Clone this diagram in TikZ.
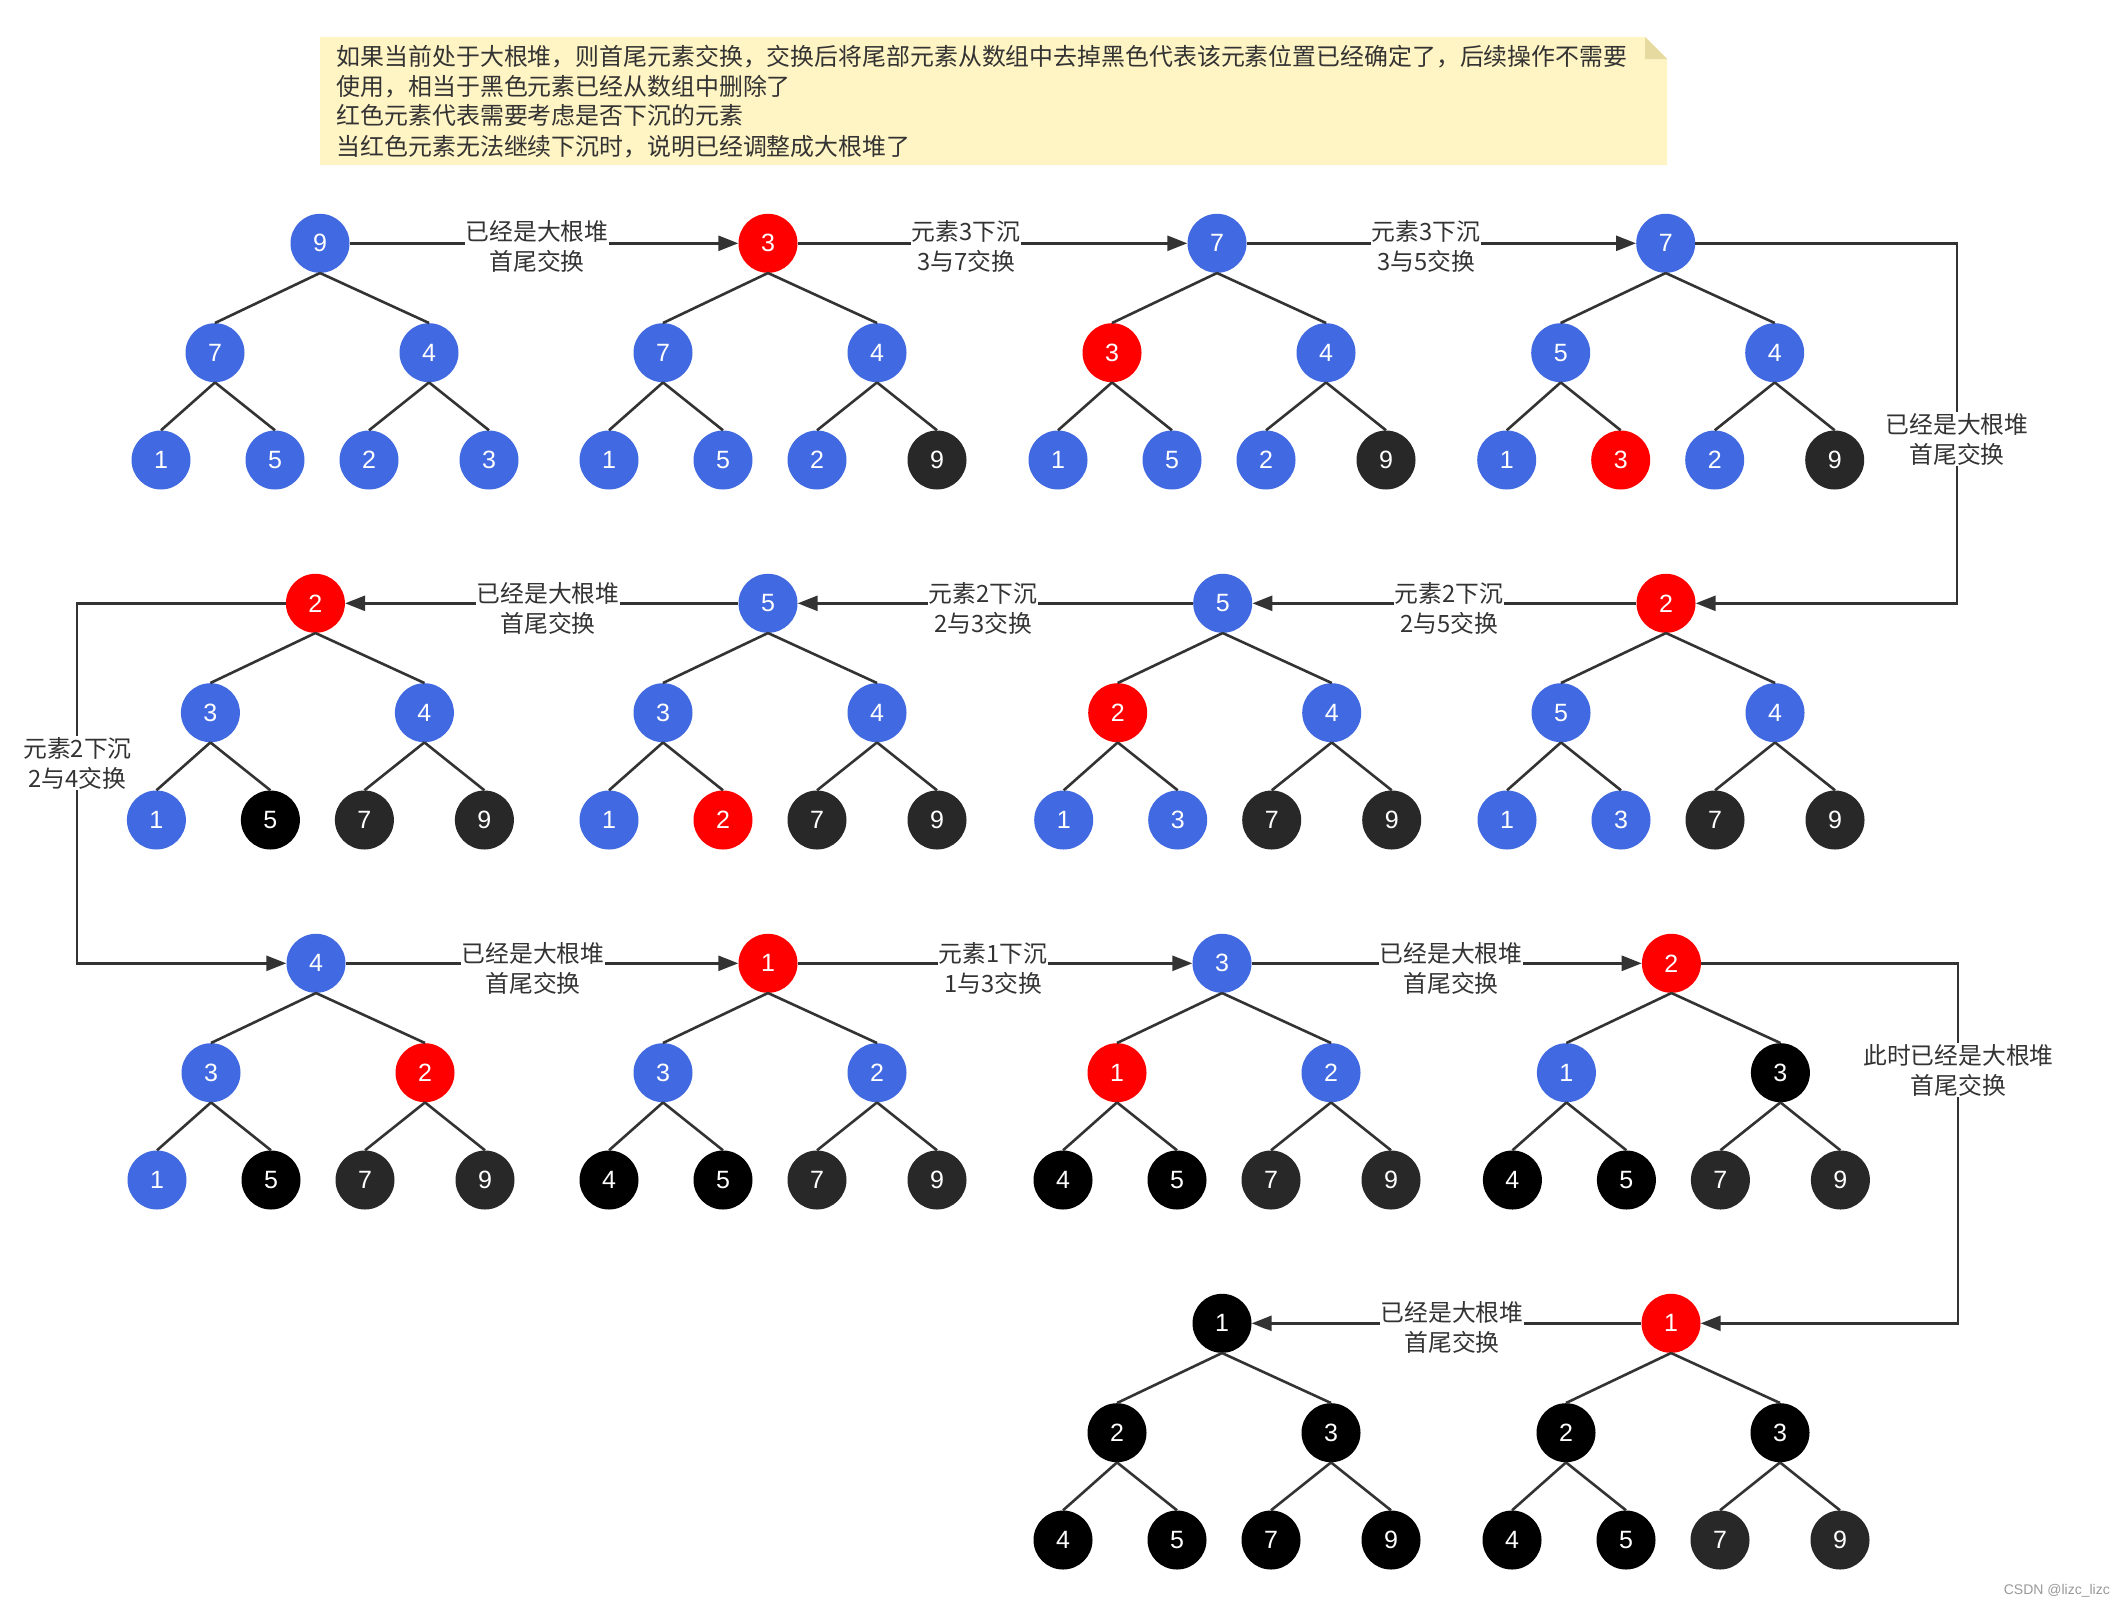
\documentclass[tikz,border=0pt]{standalone}
\usepackage{fontspec}
\usetikzlibrary{arrows.meta,calc}
\newfontfamily\cjk{Noto Sans CJK SC}
\newfontfamily\hv{Liberation Sans}
\definecolor{cB}{HTML}{4169E1}
\definecolor{cR}{HTML}{FF0000}
\definecolor{cD}{HTML}{282828}
\definecolor{cK}{HTML}{000000}
\definecolor{ln}{HTML}{333333}
\definecolor{notefill}{HTML}{FFF4C3}
\definecolor{notefold}{HTML}{E6DAA0}
\tikzset{
 hnode/.style={circle, minimum size=59pt, inner sep=0pt, text=white, font=\hv\fontsize{25}{25}\selectfont},
 tedge/.style={draw=ln, line width=2.6pt},
 arr/.style={draw=ln, line width=2.6pt, -{Triangle[length=20pt,width=15pt]}},
 lbl/.style={fill=white, inner sep=1pt, align=center, text=ln, font=\cjk\fontsize{23.8}{30}\selectfont},
 notetext/.style={anchor=base west, inner sep=0pt, text=ln, font=\cjk\fontsize{23.9}{28}\selectfont},
}
\newcommand\heap[4]{%
 \foreach \col/\v [count=\i] in {#4} {
   \pgfmathsetmacro\ox{{0,-105,109,-159,-45,49,169}[\i-1]}
   \pgfmathsetmacro\oy{{0,109.4,109.4,216.7,216.7,216.7,216.7}[\i-1]}
   \node[hnode, fill=\col] (#1-\i) at (#2+\ox, #3+\oy) {\v};
 }
 \draw[tedge] (#1-1.south) -- (#1-2.north) (#1-1.south) -- (#1-3.north)
   (#1-2.south) -- (#1-4.north) (#1-2.south) -- (#1-5.north)
   (#1-3.south) -- (#1-6.north) (#1-3.south) -- (#1-7.north);
}
\begin{document}
\begin{tikzpicture}[x=1pt,y=-1pt]
\useasboundingbox (0,0) rectangle (2125,1607);
\fill[white] (0,0) rectangle (2125,1607);
% note
\fill[notefill] (320,37) -- (1645,37) -- (1667,59) -- (1667,165) -- (320,165) -- cycle;
\fill[notefold] (1645,37) -- (1667,59) -- (1645,59) -- cycle;
\node[notetext] (n1) at (336.5,65) {如果当前处于大根堆，则首尾元素交换，交换后将尾部元素从数组中去掉黑色代表该元素位置已经确定了，后续操作不需要};
\node[notetext] (n2) at (336.5,95) {使用，相当于黑色元素已经从数组中删除了};
\node[notetext] (n3) at (336.5,124.5) {红色元素代表需要考虑是否下沉的元素};
\node[notetext] (n4) at (336.5,155) {当红色元素无法继续下沉时，说明已经调整成大根堆了};
% trees
\heap{t11}{320}{243.3}{cB/9,cB/7,cB/4,cB/1,cB/5,cB/2,cB/3}
\heap{t12}{768}{243.3}{cR/3,cB/7,cB/4,cB/1,cB/5,cB/2,cD/9}
\heap{t13}{1217}{243.3}{cB/7,cR/3,cB/4,cB/1,cB/5,cB/2,cD/9}
\heap{t14}{1665.7}{243.3}{cB/7,cB/5,cB/4,cB/1,cR/3,cB/2,cD/9}
\heap{t24}{1666}{603.3}{cR/2,cB/5,cB/4,cB/1,cB/3,cD/7,cD/9}
\heap{t23}{1222.7}{603.3}{cB/5,cR/2,cB/4,cB/1,cB/3,cD/7,cD/9}
\heap{t22}{768}{603.3}{cB/5,cB/3,cB/4,cB/1,cR/2,cD/7,cD/9}
\heap{t21}{315.4}{603.3}{cR/2,cB/3,cB/4,cB/1,cK/5,cD/7,cD/9}
\heap{t31}{316}{963.3}{cB/4,cB/3,cR/2,cB/1,cK/5,cD/7,cD/9}
\heap{t32}{768}{963.3}{cR/1,cB/3,cB/2,cK/4,cK/5,cD/7,cD/9}
\heap{t33}{1222}{963.3}{cB/3,cR/1,cB/2,cK/4,cK/5,cD/7,cD/9}
\heap{t34}{1671.4}{963.3}{cR/2,cB/1,cK/3,cK/4,cK/5,cD/7,cD/9}
\heap{t42}{1671}{1323.3}{cR/1,cK/2,cK/3,cK/4,cK/5,cD/7,cD/9}
\heap{t41}{1222}{1323.3}{cK/1,cK/2,cK/3,cK/4,cK/5,cK/7,cK/9}
% connectors
\coordinate (rv1) at (1957,0);
\coordinate (lv) at (77,0);
\coordinate (rv2) at (1958,0);
\draw[arr] (t11-1) -- (t12-1);
\draw[arr] (t12-1) -- (t13-1);
\draw[arr] (t13-1) -- (t14-1);
\draw[arr] (t14-1.east) -- (t14-1.east -| rv1) |- (t24-1.east);
\draw[arr] (t24-1) -- (t23-1);
\draw[arr] (t23-1) -- (t22-1);
\draw[arr] (t22-1) -- (t21-1);
\draw[arr] (t21-1.west) -- (t21-1.west -| lv) |- (t31-1.west);
\draw[arr] (t31-1) -- (t32-1);
\draw[arr] (t32-1) -- (t33-1);
\draw[arr] (t33-1) -- (t34-1);
\draw[arr] (t34-1.east) -- (t34-1.east -| rv2) |- (t42-1.east);
\draw[arr] (t42-1) -- (t41-1);
% labels
\node[lbl] (l1) at (537,246) {已经是大根堆\\首尾交换};
\node[lbl] (l2) at (966,246) {元素3下沉\\3与7交换};
\node[lbl] (l3) at (1426,246) {元素3下沉\\3与5交换};
\node[lbl] (l4) at (1957,439) {已经是大根堆\\首尾交换};
\node[lbl] (l5) at (548,608) {已经是大根堆\\首尾交换};
\node[lbl] (l6) at (983,608) {元素2下沉\\2与3交换};
\node[lbl] (l7) at (1449,608) {元素2下沉\\2与5交换};
\node[lbl] (l8) at (77.5,763) {元素2下沉\\2与4交换};
\node[lbl] (l9) at (533,968) {已经是大根堆\\首尾交换};
\node[lbl] (l10) at (993,968) {元素1下沉\\1与3交换};
\node[lbl] (l11) at (1451,968) {已经是大根堆\\首尾交换};
\node[lbl] (l12) at (1958.5,1070) {此时已经是大根堆\\首尾交换};
\node[lbl] (l13) at (1452,1327) {已经是大根堆\\首尾交换};
% watermark
\node[anchor=east, inner sep=0pt, text=gray!80, font=\hv\fontsize{14}{14}\selectfont] (wm) at (2110,1591) {CSDN @lizc\_lizc};
\end{tikzpicture}
\end{document}
